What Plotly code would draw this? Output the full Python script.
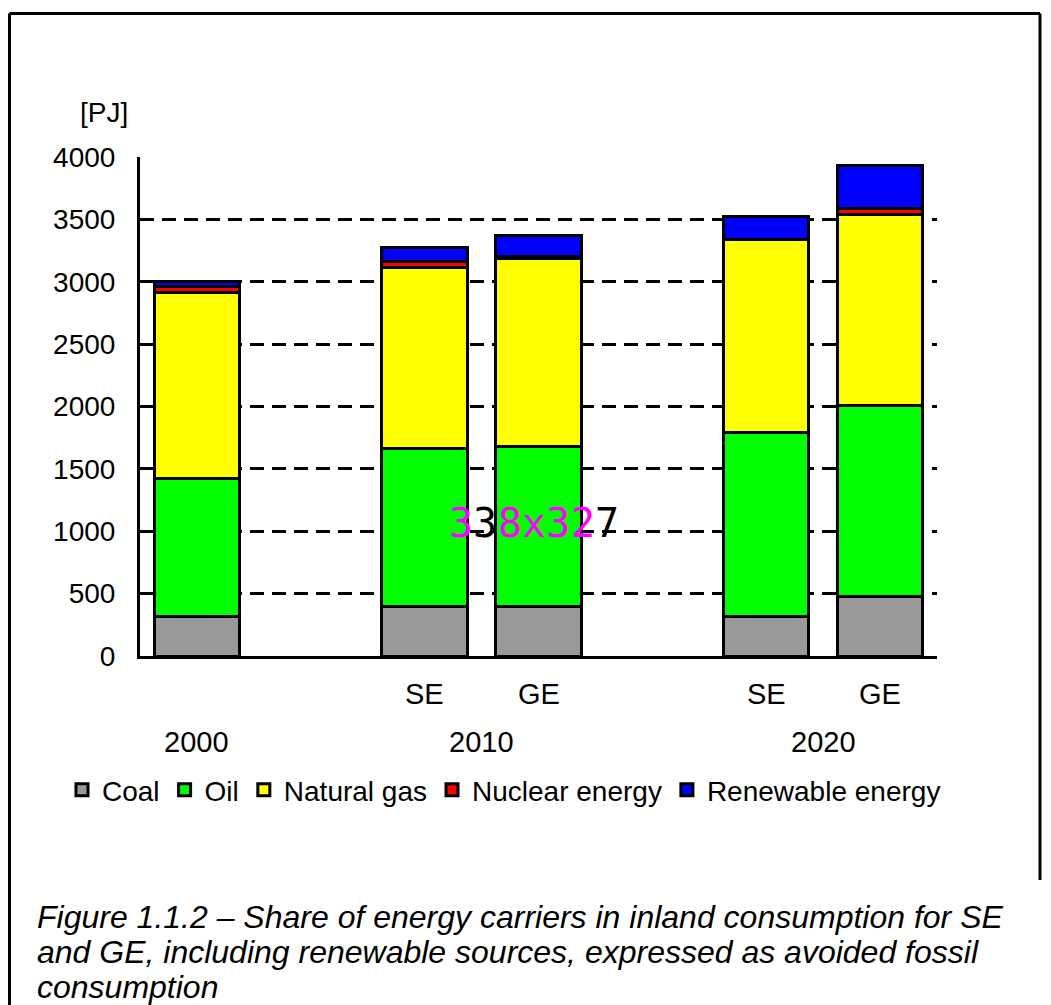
import plotly.graph_objects as go

# ---- data ----
bar_labels = ["", "SE", "GE", "SE", "GE"]
bar_years = ["2000", "2010", "2010", "2020", "2020"]
slots = [0, 2, 3, 5, 6]          # category slots (gaps between year groups)
coal = [320, 400, 400, 320, 473]
oil = [1100, 1260, 1283, 1468, 1539]
natural_gas = [1490, 1458, 1500, 1547, 1531]
nuclear = [50, 45, 20, 0, 48]
renewable = [40, 108, 167, 192, 337]
series = [
    ("Coal", coal, "#999999"),
    ("Oil", oil, "#00FF00"),
    ("Natural gas", natural_gas, "#FFFF00"),
    ("Nuclear energy", nuclear, "#FF0000"),
    ("Renewable energy", renewable, "#0000FF"),
]
y_ticks = [0, 500, 1000, 1500, 2000, 2500, 3000, 3500, 4000]
caption_lines = [
    "Figure 1.1.2 – Share of energy carriers in inland consumption for SE",
    "and GE, including renewable sources, expressed as avoided fossil",
    "consumption",
]

W, H = 1051, 1005
L, R, T, B = 140, 937, 157, 656
FONT = "Liberation Sans, Arial, sans-serif"


def px(x):
    return (x - L) / (R - L)


def py(y):
    return (B - y) / (B - T)


fig = go.Figure()
for name, vals, col in series:
    fig.add_trace(go.Bar(
        x=slots, y=vals, name=name, width=0.75,
        marker=dict(color=col, line=dict(color="black", width=3)),
    ))

annotations = []
# sub-category labels
for s, lab in zip(slots, bar_labels):
    if lab:
        annotations.append(dict(x=s, y=py(694), xref="x", yref="paper", text=lab,
                                xanchor="center", yanchor="middle", showarrow=False,
                                font=dict(size=29, color="black", family=FONT)))
# year labels centred under each group
for yr in dict.fromkeys(bar_years):
    xs = [s for s, y in zip(slots, bar_years) if y == yr]
    annotations.append(dict(x=sum(xs) / len(xs), y=py(742), xref="x", yref="paper", text=yr,
                            xanchor="center", yanchor="middle", showarrow=False,
                            font=dict(size=29, color="black", family=FONT)))
# axis unit
annotations.append(dict(x=px(104), y=py(113), xref="paper", yref="paper", text="[PJ]",
                        xanchor="center", yanchor="middle", showarrow=False,
                        font=dict(size=28, color="black", family=FONT)))
# caption
for i, line in enumerate(caption_lines):
    annotations.append(dict(
        x=px(35), y=py(917 + 35 * i), xref="paper", yref="paper", xanchor="left", yanchor="middle",
        align="left", text=line, showarrow=False,
        font=dict(size=32, color="black", family=FONT, style="italic")))
# image-size stamp (inverted colours over bars)
stamp = [("3", 448, "#FF00FF"), ("3", 472.3, "black"), ("8x3", 496.6, "#FF00FF"),
         ("2", 569.5, "#FF00FF"), ("7", 593.8, "black")]
for t, x0, c in stamp:
    annotations.append(dict(x=px(x0), y=py(523), xref="paper", yref="paper", xanchor="left",
                            yanchor="middle", text=t, showarrow=False, borderpad=0,
                            font=dict(size=40, color=c, family="DejaVu Sans Mono")))

shapes = [
    dict(type="line", xref="paper", yref="paper", x0=px(9.5), x1=px(9.5), y0=py(13.5), y1=py(1005),
         line=dict(color="black", width=3)),
    dict(type="line", xref="paper", yref="paper", x0=px(9.5), x1=px(1040), y0=py(13.5), y1=py(13.5),
         line=dict(color="black", width=3)),
    dict(type="line", xref="paper", yref="paper", x0=px(1040), x1=px(1040), y0=py(13.5), y1=py(880),
         line=dict(color="black", width=3)),
]

fig.update_layout(
    width=W, height=H,
    margin=dict(l=L, r=W - R, t=T, b=H - B),
    barmode="stack",
    plot_bgcolor="white", paper_bgcolor="white",
    font=dict(family=FONT, size=28, color="black"),
    showlegend=True,
    legend=dict(orientation="h", x=px(62), y=py(790), xanchor="left", yanchor="middle",
                font=dict(size=28, family=FONT, color="black"), itemwidth=30,
                traceorder="normal", bgcolor="rgba(0,0,0,0)"),
    xaxis=dict(range=[-0.5, 6.5], showticklabels=False, showgrid=False, zeroline=False,
               showline=True, linecolor="black", linewidth=3, ticks=""),
    yaxis=dict(range=[0, 4000], tickvals=y_ticks, showgrid=True, gridcolor="black", gridwidth=3,
               griddash="14px,8px", zeroline=False, showline=True, linecolor="black", linewidth=3,
               ticks="", ticklabelstandoff=16, tickfont=dict(size=28, family=FONT, color="black")),
    annotations=annotations,
    shapes=shapes,
)

fig.write_html("out.html", config={"displayModeBar": False},
               post_script="document.body.style.margin='0';")
